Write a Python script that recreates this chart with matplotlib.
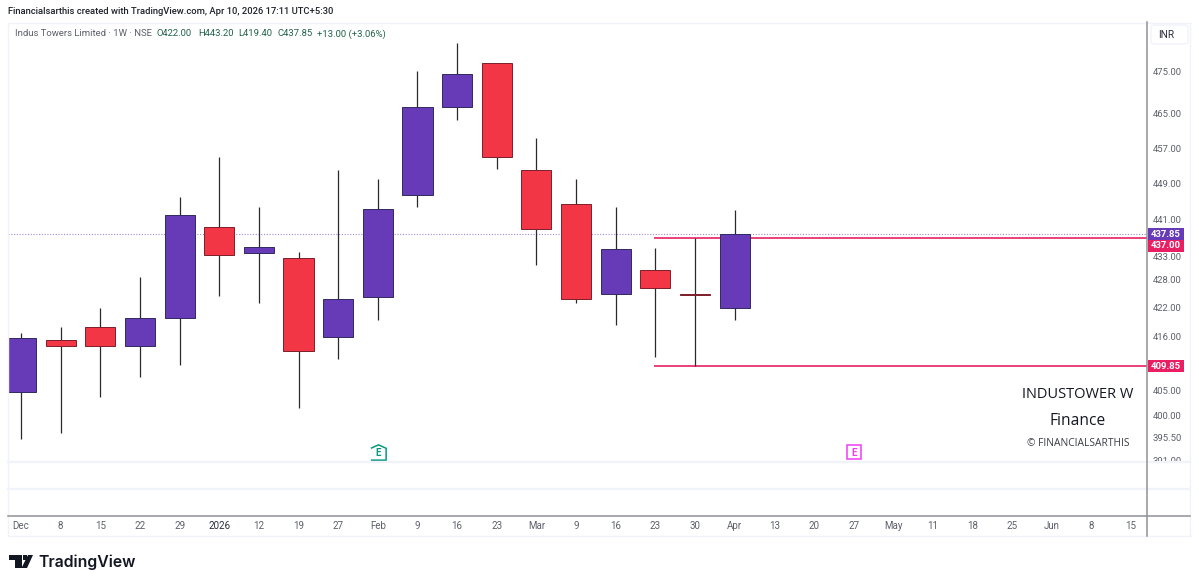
import matplotlib
matplotlib.use('Agg')
import matplotlib.pyplot as plt
from matplotlib.lines import Line2D
from matplotlib.patches import Rectangle, FancyBboxPatch, Polygon
from matplotlib.ticker import NullLocator
from matplotlib.transforms import blended_transform_factory, IdentityTransform

W, H = 1199, 585
plt.rcParams['font.family'] = ['Roboto', 'DejaVu Sans']

# weekly candles, Dec 2025 - Apr 2026
opens = [404.6, 415.3, 418.0, 414.0, 419.9, 439.4, 433.7, 432.6, 415.9, 424.3, 446.5, 466.5, 476.9, 452.1, 444.4, 424.9, 430.0, 424.9, 422.0]
highs = [416.7, 418.0, 422.0, 428.5, 446.0, 455.0, 443.8, 433.9, 452.1, 450.0, 475.0, 481.7, 476.9, 459.4, 450.0, 443.8, 434.8, 437.0, 443.2]
lows = [395.2, 396.4, 403.6, 407.6, 410.1, 424.5, 423.0, 401.4, 411.3, 419.4, 443.8, 463.5, 452.3, 431.1, 423.0, 418.4, 411.7, 409.85, 419.4]
closes = [415.7, 414.0, 414.0, 419.9, 442.0, 433.3, 435.0, 413.0, 423.9, 443.3, 466.5, 474.3, 455.0, 438.9, 423.9, 434.6, 426.2, 424.7, 437.85]

time_labels = ['Dec', '8', '15', '22', '29', '2026', '12', '19', '27', 'Feb', '9', '16', '23', 'Mar', '9', '16', '23', '30', 'Apr',
               '13', '20', '27', 'May', '11', '18', '25', 'Jun', '8', '15']
price_ticks = [475, 465, 457, 449, 441, 433, 428, 422, 416, 405, 400, 395.5, 391]

last_price = 437.85
level_high = 437.00
level_low = 409.85
level_start = 16
earnings_past = 9
earnings_next = 21

UP = '#673ab7'
DOWN = '#f23645'
PINK = '#e91e63'
GREEN = '#22634a'
GREY = '#5d606b'
FRAME = '#f0f3fa'
AXIS = '#8f9196'


def fx(x):
    return x / W


def fy(y):
    return 1 - y / H


def axes_px(x0, y0, x1, y1):
    return [fx(x0), fy(y1), (x1 - x0) / W, (y1 - y0) / H]


def label(x, y, s, **kw):
    kw.setdefault('va', 'center')
    kw.setdefault('color', GREY)
    kw.setdefault('fontsize', 7)
    fig.text(fx(x), fy(y), s, **kw)


fig = plt.figure(figsize=(W / 100, H / 100), dpi=100, facecolor='white')
ax = fig.add_axes(axes_px(8, 23, 1147, 462))
ax_t = fig.add_axes(axes_px(8, 516, 1147, 536))

xlim = (-0.328, 28.4)
x = list(range(len(opens)))

# candles
ax.set_yscale('log')
colors = [UP if c >= o else DOWN for o, c in zip(opens, closes)]
edges = ['#2f2a5e' if c >= o else '#7d1f2a' for o, c in zip(opens, closes)]
ax.vlines(x, lows, highs, color='#2a2a2a', lw=0.9, zorder=3)
bottoms = [min(o, c) for o, c in zip(opens, closes)]
heights = [abs(c - o) for o, c in zip(opens, closes)]
ax.bar(x, heights, width=0.76, bottom=bottoms, color=colors, edgecolor=edges, lw=0.7, zorder=4)

# levels
ax.axhline(last_price, color=UP, lw=0.8, ls=(0, (1, 1.5)), alpha=0.6, zorder=1)
ax.plot([level_start, xlim[1]], [level_high, level_high], color=PINK, lw=1.4, alpha=0.85, zorder=2)
ax.plot([level_start, xlim[1]], [level_low, level_low], color=PINK, lw=1.4, alpha=0.85, zorder=2)

ax.set_xlim(xlim)
ax.set_ylim(390.73, 486.53)
ax.yaxis.tick_right()
ax.yaxis.set_minor_locator(NullLocator())
ax.yaxis.set_minor_formatter(plt.NullFormatter())
ax.set_yticks(price_ticks)
ax.set_yticklabels([f'{p:.2f}' for p in price_ticks], fontsize=6.8, color=GREY)
ax.tick_params(axis='y', length=0, pad=4.2)
ax.set_xticks([])
for s in ax.spines.values():
    s.set_visible(False)

# price tags on the scale, shifted down where two would collide
for price, off, col in [(last_price, 0, UP), (level_high, -8, PINK), (level_low, 0, PINK)]:
    ypx = ax.transData.transform((0, price))[1] + off
    fig.add_artist(Rectangle((1147.5, ypx - 6), 36, 12, transform=IdentityTransform(), fc=col, ec='none', zorder=2))
    fig.text(fx(1165.5), ypx / H, f'{price:.2f}', ha='center', va='center', color='white', fontsize=6.8,
             fontweight='bold', zorder=4)

# earnings markers
house = [(-1, -1), (1, -1), (1, 0.55), (0, 1), (-1, 0.55)]
etrans = blended_transform_factory(ax.transData, ax.transAxes)
ax.plot([earnings_past], [0.0235], marker=house, ms=11, mfc='white', mec='#089981', mew=1.1, transform=etrans, zorder=5)
ax.text(earnings_past, 0.0215, 'E', color='#089981', fontsize=7, fontweight='bold', ha='center', va='center', transform=etrans, zorder=6)
ax.plot([earnings_next], [0.0225], marker='s', ms=10, mfc='white', mec='#f23cf5', mew=1.1, transform=etrans, zorder=5)
ax.text(earnings_next, 0.0215, 'E', color='#f23cf5', fontsize=7, fontweight='bold', ha='center', va='center', transform=etrans, zorder=6)

# time scale
ax_t.set_xlim(xlim)
ax_t.set_ylim(0, 1)
ax_t.set_yticks([])
ax_t.set_xticks(range(len(time_labels)))
ax_t.set_xticklabels(time_labels, fontsize=7, color=GREY)
ax_t.tick_params(axis='x', length=0, direction='in', pad=-11)
ax_t.get_xticklabels()[5].set_color('#2a2e39')
for s in ax_t.spines.values():
    s.set_visible(False)

# pane stripes and frame
fig.add_artist(Rectangle((fx(1148), fy(516)), 42 / W, 54 / H, transform=fig.transFigure, fc='white', ec='none', zorder=1))
for y in (462, 489):
    fig.add_artist(Line2D([fx(8), fx(1190)], [fy(y), fy(y)], color=FRAME, lw=1.6, zorder=2))
for y in (23, 536):
    fig.add_artist(Line2D([fx(8), fx(1190)], [fy(y), fy(y)], color=FRAME, lw=1.0, zorder=2))
fig.add_artist(Line2D([fx(8), fx(8)], [fy(23), fy(536)], color=FRAME, lw=1.0, zorder=2))
fig.add_artist(Line2D([fx(1190), fx(1190)], [fy(23), fy(536)], color=FRAME, lw=1.0, zorder=2))
fig.add_artist(Line2D([fx(8), fx(1190)], [fy(516), fy(516)], color=AXIS, lw=1.1, zorder=2))
fig.add_artist(Line2D([fx(1147), fx(1147)], [fy(22), fy(536)], color=AXIS, lw=1.1, zorder=2))

# INR button
fig.add_artist(FancyBboxPatch((fx(1151), fy(44)), 37 / W, 19 / H, transform=fig.transFigure,
                              boxstyle='round,pad=0,rounding_size=0.004', fc='white', ec=FRAME, lw=1, zorder=2))
label(1158, 35, 'INR', color='#2a2e39', fontsize=7.2, zorder=3)

# header
label(8, 12, 'Financialsarthis created with TradingView.com, Apr 10, 2026 17:11 UTC+5:30', color='#1f222b', fontsize=6.75, fontweight='medium')
label(15, 34, 'Indus Towers Limited · 1W · NSE', fontsize=6.8)
for px, s in [(157, 'O422.00'), (198, 'H443.20'), (238, 'L419.40'), (277, 'C437.85'), (317, '+13.00 (+3.06%)')]:
    label(px, 34, s, color=GREEN, fontsize=6.8)

# watermark
wm = ['Open Sans', 'DejaVu Sans']
label(1078, 394, 'INDUSTOWER W', color='#131722', fontsize=10.5, ha='center', family=wm)
label(1078, 421, 'Finance', color='#131722', fontsize=11.2, ha='center', family=wm)
label(1078, 444, '© FINANCIALSARTHIS', color='#3a3d46', fontsize=7.4, ha='center', family=wm)

# logo
logo = '#131722'
fig.add_artist(Polygon([(fx(9), fy(555)), (fx(22), fy(555)), (fx(22), fy(568)), (fx(15), fy(568)), (fx(15), fy(560)), (fx(9), fy(560))],
                       closed=True, transform=fig.transFigure, fc=logo, ec='none', zorder=3))
fig.add_artist(Polygon([(fx(28), fy(555)), (fx(33), fy(555)), (fx(27), fy(568)), (fx(21.5), fy(568))],
                       closed=True, transform=fig.transFigure, fc=logo, ec='none', zorder=3))
fig.add_artist(Rectangle((fx(23), fy(560)), 3.8 / W, 5 / H, transform=fig.transFigure, fc=logo, ec='none', zorder=3))
label(38, 562, 'TradingView', color=logo, fontsize=11.4, fontweight='semibold', family=['Inter', 'DejaVu Sans'])

fig.savefig('out.png', dpi=100)
